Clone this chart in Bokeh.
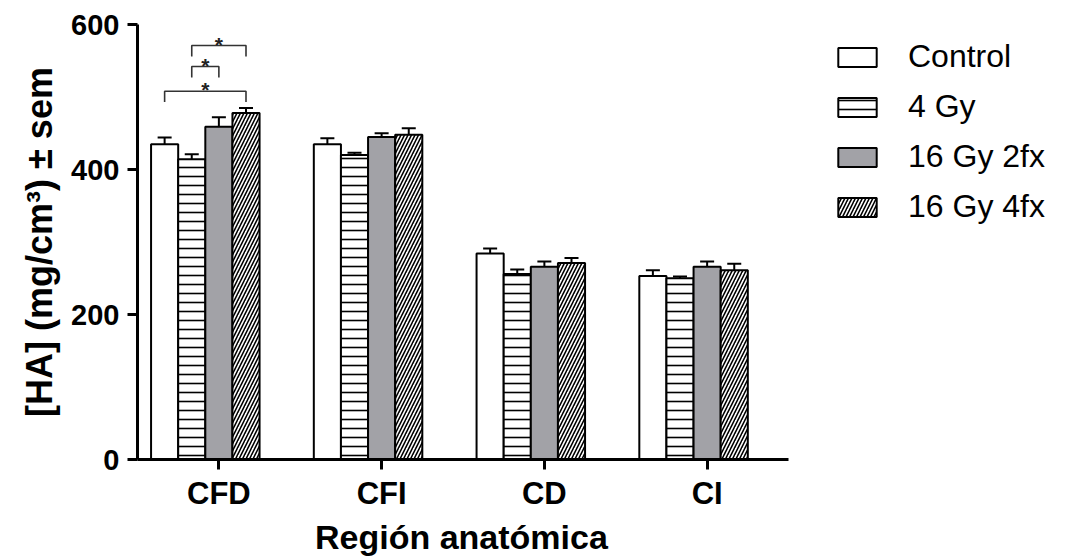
from bokeh.plotting import figure
from bokeh.models import (Range1d, FixedTicker, Whisker, TeeHead, ColumnDataSource,
                          Legend, LegendItem, Title)
from bokeh.embed import file_html
from bokeh.resources import INLINE

# Anatomical regions and treatment groups
categories = ["CFD", "CFI", "CD", "CI"]
series_names = ["Control", "4 Gy", "16 Gy 2fx", "16 Gy 4fx"]

# Mean HA concentration (mg/cm3) and SEM per region
control = [435, 435, 284, 253]
control_sem = [9, 8, 7, 8]
gy4 = [414, 420, 256, 250]
gy4_sem = [7, 3, 6, 2.5]
gy16_2fx = [459, 445, 266, 266]
gy16_2fx_sem = [13, 5, 7, 7]
gy16_4fx = [478, 448, 271, 261]
gy16_4fx_sem = [7, 9, 7, 9]

# Significance brackets in CFD: (series a, series b, bracket height)
sig_region = "CFD"
sig_pairs = [(1, 3), (1, 2), (0, 3)]
sig_heights = [571, 542, 508]
sig_labels = ["*", "*", "*"]

x_title = "Región anatómica"
y_title = "[HA] (mg/cm³) ± sem"

values = [control, gy4, gy16_2fx, gy16_4fx]
sems = [control_sem, gy4_sem, gy16_2fx_sem, gy16_4fx_sem]

FONT = "Liberation Sans"
slot = 1 / 6  # bar width within each region (five slots + gap)

# layout: the x axis covers 651 px; the frame continues to the right edge so the
# legend can sit beside the bars without being clipped
W, H = 1069, 560
LEFT, TOP, BOTTOM = 137, 24, 101
AXIS_PX = 651
n = len(categories)
x_end = n * (W - LEFT) / AXIS_PX

p = figure(width=W, height=H, output_backend="svg", toolbar_location=None,
           x_range=Range1d(0, x_end), y_range=Range1d(0, 600),
           min_border_left=LEFT, min_border_right=0, min_border_top=TOP,
           min_border_bottom=BOTTOM)
p.xgrid.visible = False
p.ygrid.visible = False
p.outline_line_color = None
p.background_fill_color = "white"

centers = [i + 0.5 for i in range(n)]

styles = [
    dict(fill_color="white"),
    dict(fill_color="white", hatch_pattern="horizontal_line", hatch_scale=9,
         hatch_weight=1.6, hatch_color="black"),
    dict(fill_color="#a2a2a7"),
    dict(fill_color="white", hatch_pattern="right_diagonal_line", hatch_scale=7,
         hatch_weight=1.6, hatch_color="black"),
]

def xpos(k, i):
    return centers[i] + (k - 2) * slot

items = []
for k, name in enumerate(series_names):
    xs = [xpos(k, i) for i in range(n)]
    src = ColumnDataSource(dict(
        x=xs, top=values[k],
        upper=[v + s for v, s in zip(values[k], sems[k])],
        lower=[v - s for v, s in zip(values[k], sems[k])],
    ))
    r = p.vbar(x="x", top="top", bottom=0, width=slot, source=src,
               line_color="black", line_width=2, **styles[k])
    items.append(LegendItem(label=name, renderers=[r]))
    p.add_layout(Whisker(source=src, base="x", upper="upper", lower="lower",
                         line_width=2, line_color="black",
                         upper_head=TeeHead(size=14, line_width=2, line_color="black"),
                         lower_head=TeeHead(size=14, line_width=2, line_color="black")))

# significance brackets
ri = categories.index(sig_region)
drop = 15
bx, by, sx, sy = [], [], [], []
for (a, b), h in zip(sig_pairs, sig_heights):
    xa, xb = xpos(a, ri), xpos(b, ri)
    bx.append([xa, xa, xb, xb])
    by.append([h - drop, h, h, h - drop])
    sx.append((xa + xb) / 2)
    sy.append(h + 2)
p.multi_line(xs=bx, ys=by, line_color="#333333", line_width=1.6)
p.text(x=sx, y=sy, text=sig_labels, text_align="center", text_baseline="middle",
       text_font_size="21px", text_font_style="bold", text_color="#222222")

# axes
xa = p.xaxis[0]
xa.ticker = FixedTicker(ticks=centers)
xa.major_label_overrides = {c: lab for c, lab in zip(centers, categories)}
xa.bounds = (0, n)
ya = p.yaxis[0]
ya.ticker = FixedTicker(ticks=[0, 200, 400, 600], minor_ticks=[])
ya.axis_label = y_title

for ax in (xa, ya):
    ax.axis_line_width = 3
    ax.axis_line_color = "black"
    ax.major_tick_line_width = 3
    ax.major_tick_line_color = "black"
    ax.major_tick_out = 10
    ax.major_tick_in = 0
    ax.minor_tick_out = 0
    ax.minor_tick_in = 0
    ax.major_label_text_font = FONT
    ax.major_label_text_font_style = "bold"
    ax.major_label_text_color = "black"
    ax.axis_label_text_font = FONT
    ax.axis_label_text_font_style = "bold"
    ax.axis_label_text_color = "black"

xa.major_label_text_font_size = "31px"
xa.major_label_standoff = 6
ya.major_label_text_font_size = "29px"
ya.major_label_standoff = 8
ya.axis_label_text_font_size = "36px"
ya.axis_label_standoff = 8

# x-axis title, centred under the axis span rather than the wider frame
title_w = 296
p.add_layout(Title(text=x_title, align="left", offset=(AXIS_PX - title_w) / 2,
                   text_font=FONT, text_font_size="34px", text_font_style="bold",
                   text_color="black", standoff=4), "below")

legend = Legend(items=items, location=(696, 234), glyph_width=48, glyph_height=24,
                label_text_font=FONT, label_text_font_size="32px",
                label_text_color="black",
                label_standoff=27, spacing=13, padding=0, margin=0,
                border_line_color=None, background_fill_alpha=0)
p.add_layout(legend)

open("out.html", "w").write(file_html(p, INLINE))
